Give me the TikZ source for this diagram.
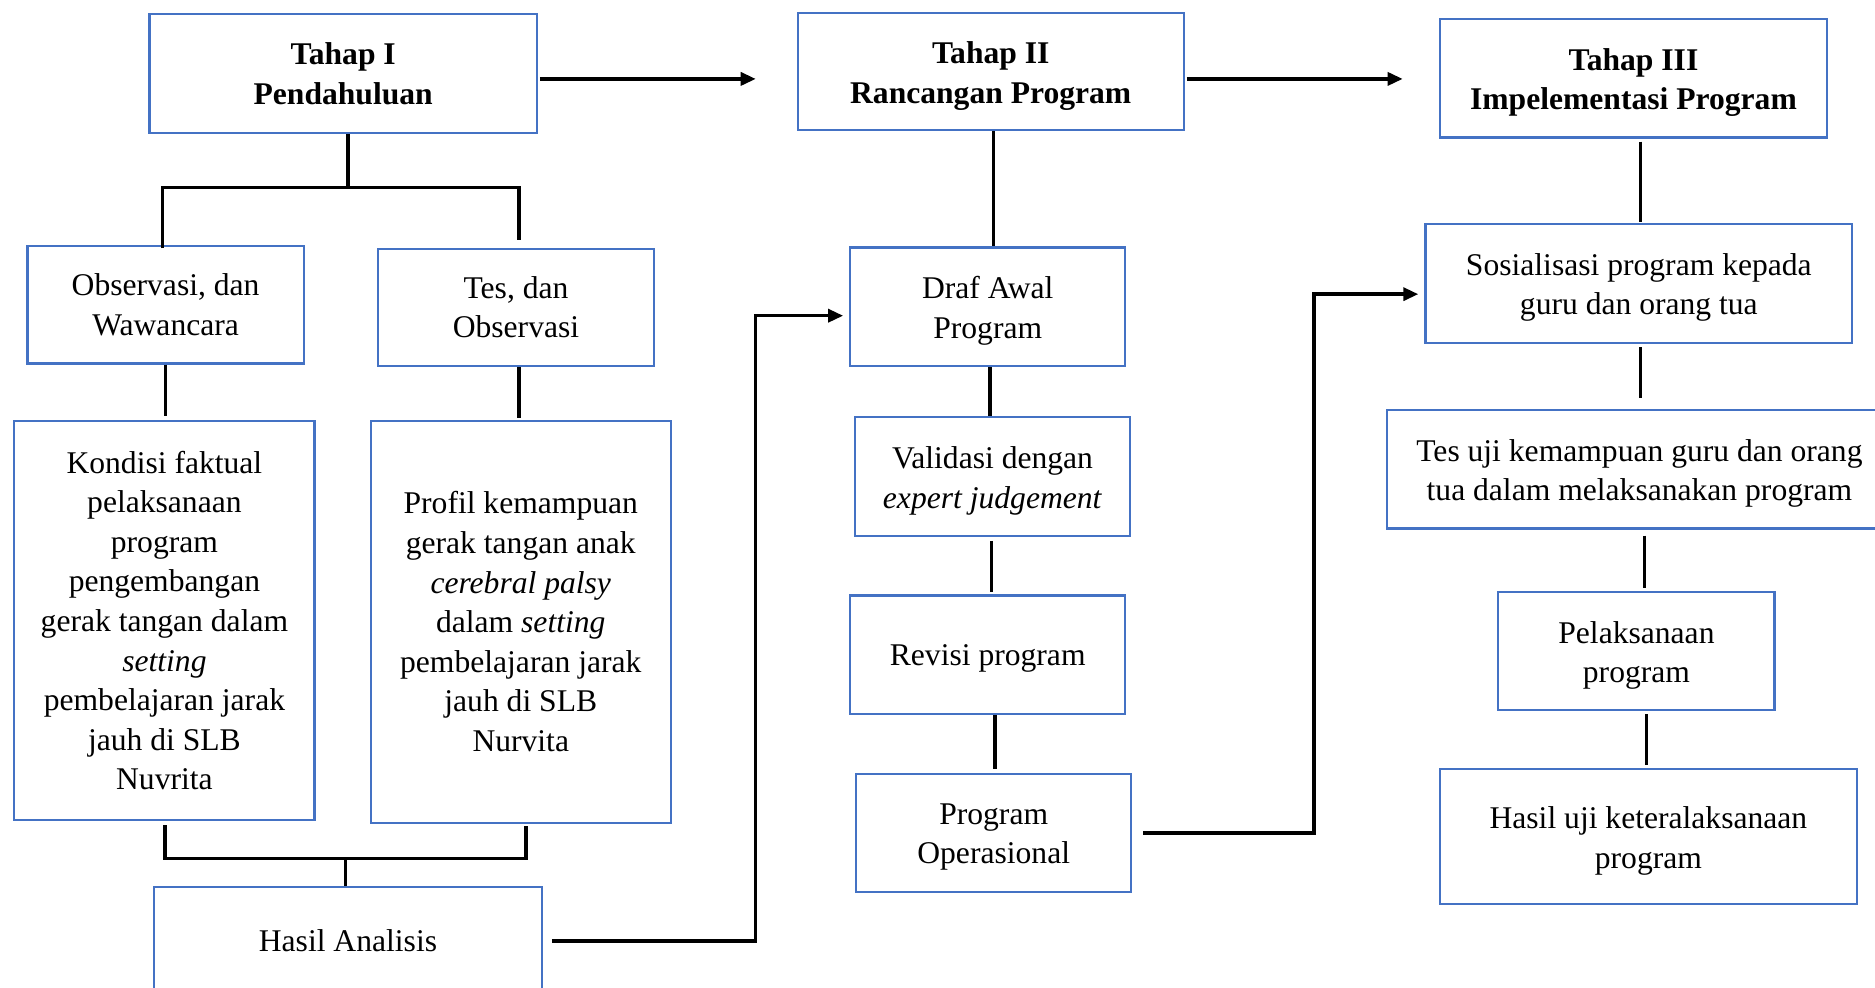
\documentclass[tikz,border=0pt]{standalone}
\usepackage{fontspec}
\setmainfont{Liberation Serif}
\usetikzlibrary{arrows.meta}
\definecolor{boxblue}{RGB}{68,114,196}
\begin{document}
\begin{tikzpicture}[x=1.1958pt,y=-1.1958pt,
  box/.style={draw=boxblue, line width=2.2pt, inner sep=0pt, align=center,
    font=\fontsize{31.6}{39.6}\selectfont, fill=white},
  ltext/.style={font=\fontsize{31.6}{39.6}\selectfont, align=center, inner sep=0pt, yshift=-4.2pt},
  conn/.style={line width=3.4pt, draw=black},
  arr/.style={conn, -{Triangle[length=15pt,width=13pt]}},
]
\useasboundingbox (0,0) rectangle (1568,826);
\clip (0,0) rectangle (1568,826);

% Column I
\node[box, minimum width=387.4pt, minimum height=118.4pt] (t1) at (287,61.5) {\textbf{Tahap I}\\\textbf{Pendahuluan}};
\node[box, minimum width=276.2pt, minimum height=117.2pt] (obs) at (138.5,255) {Observasi, dan\\Wawancara};
\node[box, minimum width=276.2pt, minimum height=117.2pt] (tes) at (431.5,257) {Tes, dan\\Observasi};
\node[box, minimum width=300.1pt, minimum height=399.4pt] (kon) at (137.5,519) {Kondisi faktual\\pelaksanaan\\program\\pengembangan\\gerak tangan dalam\\\textit{setting}\\pembelajaran jarak\\jauh di SLB\\Nuvrita};
\node[box, minimum width=300.1pt, minimum height=401.8pt] (prof) at (435.5,520) {Profil kemampuan\\gerak tangan anak\\\textit{cerebral palsy}\\dalam \textit{setting}\\pembelajaran jarak\\jauh di SLB\\Nurvita};
\node[box, minimum width=387.4pt, minimum height=107.6pt] (ha) at (291,787) {Hasil Analisis};

% Column II
\node[box, minimum width=386.2pt, minimum height=117.2pt,
  label={[ltext]center:{\textbf{Tahap II}\\\textbf{Rancangan Program}}}] (t2) at (828.5,60) {};
\node[box, minimum width=275pt, minimum height=118.4pt,
  label={[ltext]center:{Draf Awal\\Program}}] (draf) at (826,256.5) {};
\node[box, minimum width=275pt, minimum height=118.4pt,
  label={[ltext]center:{Validasi dengan\\\textit{expert judgement}}}] (val) at (830,398.5) {};
\node[box, minimum width=275pt, minimum height=118.4pt,
  label={[ltext]center:{Revisi program}}] (rev) at (826,547.5) {};
\node[box, minimum width=275pt, minimum height=118.4pt,
  label={[ltext]center:{Program\\Operasional}}] (po) at (831,696.5) {};

% Column III
\node[box, minimum width=387.4pt, minimum height=118.4pt,
  label={[ltext]center:{\textbf{Tahap III}\\\textbf{Impelementasi Program}}}] (t3) at (1366,65.5) {};
\node[box, minimum width=426.9pt, minimum height=119.6pt,
  label={[ltext]center:{Sosialisasi program kepada\\guru dan orang tua}}] (sos) at (1370.5,237) {};
\node[box, minimum width=504.6pt, minimum height=118.4pt,
  label={[ltext]center:{Tes uji kemampuan guru dan orang\\tua dalam melaksanakan program}}] (tu) at (1371,392.5) {};
\node[box, minimum width=276.2pt, minimum height=118.4pt,
  label={[ltext]center:{Pelaksanaan\\program}}] (pel) at (1368.5,544.5) {};
\node[box, minimum width=417.3pt, minimum height=135.1pt,
  label={[ltext]center:{Hasil uji keteralaksanaan\\program}}] (hu) at (1378.5,699.5) {};

% Junction and bend coordinates
\coordinate (b1) at (291,157);
\coordinate (b2) at (289,718);
\coordinate (e1) at (632,66);
\coordinate (e2) at (1173,66);
\coordinate (c1) at (632,264);
\coordinate (c2) at (1099,246);

% Column I connectors
\draw[conn] (t1.south -| b1) -- (b1);
\draw[conn] ([yshift=-3pt]obs.north -| 136,0) |- (b1) -| ([yshift=8pt]tes.north -| 434,0);
\draw[conn, shorten >=4pt] (obs.south) -- (obs.south |- kon.north);
\draw[conn, shorten >=2pt] (tes.south -| 434,0) -- (prof.north -| 434,0);
\draw[conn, shorten <=4pt] (kon.south -| 138,0) |- (b2) -| ([yshift=-2pt]prof.south -| 440,0);
\draw[conn] (b2) -- (ha.north -| b2);
\draw[arr, shorten <=9pt] (ha.east) -| (c1) -- ([xshift=-6pt]draf.west |- c1);

% Stage arrows
\draw[arr, shorten <=2pt] (t1.east |- e1) -- (e1);
\draw[arr, shorten <=2pt] (t2.east |- e2) -- (e2);

% Column II connectors
\draw[conn] (t2.south -| 831,0) -- (draf.north -| 831,0);
\draw[conn] (draf.south -| 828,0) -- (val.north -| 828,0);
\draw[conn, shorten <=4pt, shorten >=2pt] (val.south -| 829,0) -- (rev.north -| 829,0);
\draw[conn, shorten >=4pt] (rev.south -| 832,0) -- (po.north -| 832,0);
\draw[arr, shorten <=11pt] (po.east) -| (c2) -- ([xshift=-6pt]sos.west |- c2);

% Column III connectors
\draw[conn, shorten <=3pt, shorten >=1pt] (t3.south -| 1372,0) -- (sos.north -| 1372,0);
\draw[conn, shorten <=3pt, shorten >=11pt] (sos.south -| 1372,0) -- (tu.north -| 1372,0);
\draw[conn, shorten <=6pt, shorten >=3pt] (tu.south -| 1375,0) -- (pel.north -| 1375,0);
\draw[conn, shorten <=3pt, shorten >=3pt] (pel.south -| 1377,0) -- (hu.north -| 1377,0);
\end{tikzpicture}
\end{document}
